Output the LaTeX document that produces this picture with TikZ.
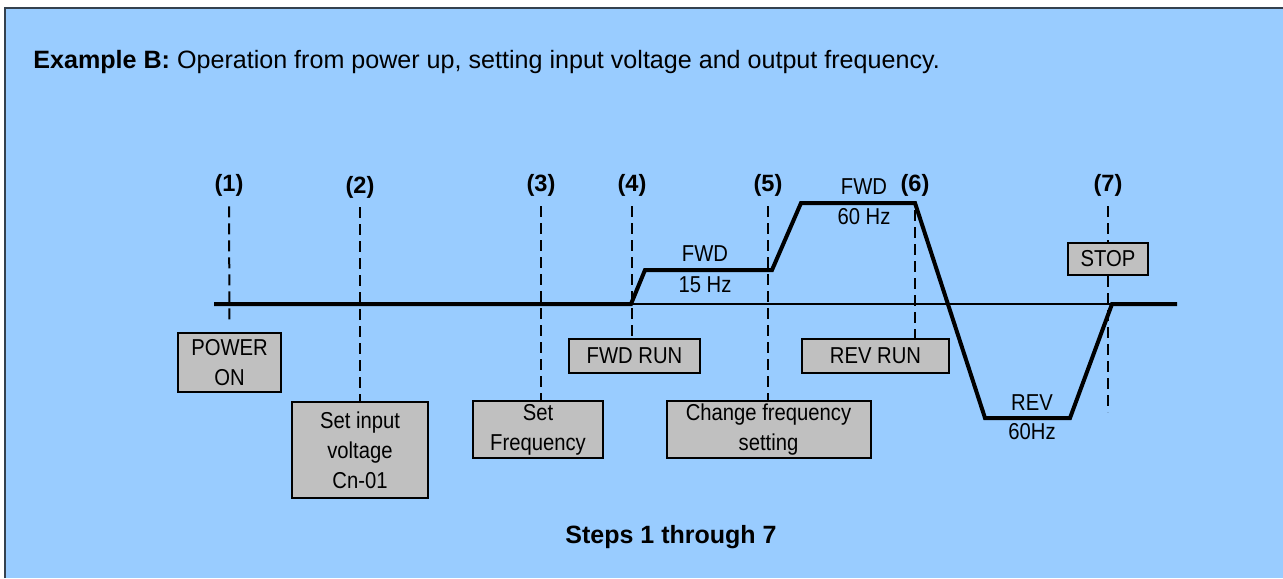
\documentclass[tikz,border=0pt]{standalone}
\usepackage{fontspec}
\setmainfont{Liberation Sans}
\newfontfamily\narrowfont[FakeStretch=0.88]{Liberation Sans}
\definecolor{bgblue}{HTML}{99CCFF}
\definecolor{boxgray}{HTML}{C0C0C0}
\definecolor{framec}{HTML}{34414F}
\begin{document}
\begin{tikzpicture}[x=0.5pt,y=-0.5pt,
  box/.style={draw=black, line width=1pt, fill=boxgray, align=center, inner sep=0pt,
    font=\narrowfont\fontsize{11.5}{15}\selectfont},
  num/.style={font=\bfseries\fontsize{11.8}{13}\selectfont, inner sep=0pt, anchor=base},
  lbl/.style={font=\narrowfont\fontsize{11.5}{14}\selectfont, inner sep=0pt},
  trace/.style={line width=2pt, line join=miter},
  dline/.style={line width=1pt, dash pattern=on 5.5pt off 3pt}]
\path[use as bounding box] (0,0) rectangle (1283,578);
\fill[bgblue] (5,8) rectangle (1283,578);
\draw[framec, line width=1pt] (5,578) -- (5,8) -- (1283,8);

% title and caption
\node[anchor=base west, inner sep=0pt, font=\fontsize{12.55}{15}\selectfont] (title) at (33,68)
  {\textbf{Example B:} Operation from power up, setting input voltage and output frequency.};
\node[anchor=base, inner sep=0pt, font=\bfseries\fontsize{12.5}{15}\selectfont] (cap) at (671,543)
  {Steps 1 through 7};

% step numbers
\node[num] (n1) at (229,191) {(1)};
\node[num] (n2) at (360,193) {(2)};
\node[num] (n3) at (541,191) {(3)};
\node[num] (n4) at (632,191) {(4)};
\node[num] (n5) at (768,191) {(5)};
\node[num] (n6) at (915,191) {(6)};
\node[num] (n7) at (1108,191) {(7)};

% baseline and speed trace
\draw[line width=1pt] (214,304) -- (1177,304);
\draw[trace] (214,304) -- (631,304) -- (645,270) -- (772,270) -- (801,203) -- (915,203)
  -- (985,418) -- (1070,418) -- (1112,304) -- (1177,304);

% boxes
\node[box, minimum width=51.5pt, minimum height=29.5pt] (pon) at (229.5,362.5) {POWER\\ON};
\node[box, minimum width=68pt, minimum height=48pt] (sin) at (360,450) {Set input\\voltage\\Cn-01};
\node[box, minimum width=65pt, minimum height=28.5pt] (sfr) at (538,429.5) {Set\\Frequency};
\node[box, minimum width=65.5pt, minimum height=17pt] (fwd) at (634.5,356) {FWD RUN};
\node[box, minimum width=102pt, minimum height=28.5pt] (chg) at (768.5,429.5) {Change frequency\\setting};
\node[box, minimum width=73.5pt, minimum height=17pt] (rev) at (875.5,356) {REV RUN};
\node[box, minimum width=40pt, minimum height=16pt] (stop) at (1108,259) {STOP};

% trace labels
\node[lbl] (f15a) at (705,254) {FWD};
\node[lbl] (f15b) at (705,285) {15 Hz};
\node[lbl] (f60a) at (864,187) {FWD};
\node[lbl] (f60b) at (864,217) {60 Hz};
\node[lbl] (r60a) at (1032,403) {REV};
\node[lbl] (r60b) at (1032,432) {60Hz};

% dashed markers
\coordinate (b7) at (1108,412);
\draw[dline] ([yshift=-5pt]n1.south) -- ([yshift=4pt]pon.north);
\draw[dline] ([yshift=-4.5pt]n2.south) -- (sin.north);
\draw[dline] ([yshift=-5pt]n3.south) -- (sfr.north-|n3.south);
\draw[dline] ([yshift=-5pt]n4.south) -- (fwd.north-|n4.south);
\draw[dline] ([yshift=-5pt]n5.south) -- (chg.north-|n5.south);
\draw[dline] ([yshift=-7pt]n6.south) -- (rev.north-|n6.south);
\draw[dline] ([yshift=-5pt]n7.south) -- (stop.north);
\draw[dline] (stop.south) -- (b7);
\end{tikzpicture}
\end{document}
